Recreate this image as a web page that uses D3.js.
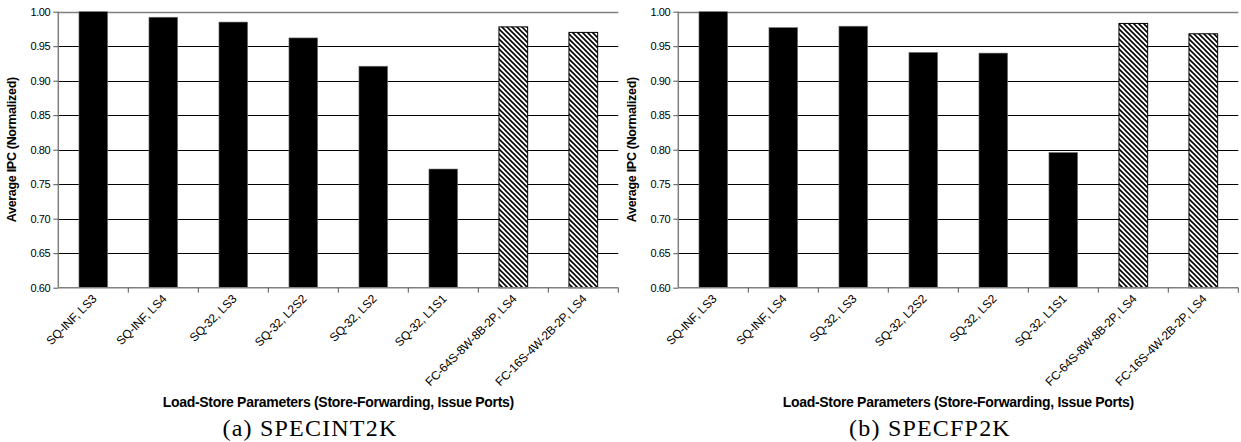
<!DOCTYPE html>
<html>
<head>
<meta charset="utf-8">
<script src="https://cdn.jsdelivr.net/npm/d3@7"></script>
<style>
    body { margin: 0; background: #fff; }
    svg text { font-family: "Liberation Sans", Arial, sans-serif; }
</style>
</head>
<body>
<div id="chart"></div>
<script>
"use strict";

// categories and values
var categories = ["SQ-INF, LS3", "SQ-INF, LS4", "SQ-32, LS3", "SQ-32, L2S2",
                  "SQ-32, LS2", "SQ-32, L1S1", "FC-64S-8W-8B-2P, LS4",
                  "FC-16S-4W-2B-2P, LS4"];
var intValues = [1.000, 0.992, 0.985, 0.962, 0.921, 0.772, 0.978, 0.970];
var fpValues = [1.000, 0.977, 0.979, 0.941, 0.940, 0.796, 0.983, 0.968];
var hatched = [false, false, false, false, false, false, true, true];
var yTicks = [0.60, 0.65, 0.70, 0.75, 0.80, 0.85, 0.90, 0.95, 1.00];
var yTitle = "Average IPC (Normalized)";
var xTitle = "Load-Store Parameters (Store-Forwarding, Issue Ports)";
var captions = ["(a) SPECINT2K", "(b) SPECFP2K"];

var W = 1241, H = 442;

var svg = d3.select("#chart").append("svg")
    .attr("width", W).attr("height", H);

// hatch for the FC bars: "\" stripes
var pat = svg.append("defs").append("pattern")
    .attr("id", "hatch")
    .attr("patternUnits", "userSpaceOnUse")
    .attr("width", 5).attr("height", 5);
pat.append("rect").attr("width", 5).attr("height", 5).attr("fill", "#fff");
pat.append("path")
    .attr("d", "M0,0 L5,5 M-1,4 L1,6 M4,-1 L6,1")
    .attr("stroke", "#000").attr("stroke-width", 1.6);


function drawPanel (left, values, caption, capx) {
    var g, x, y, plotw = 560, top = 11.7, bottom = 287.7;

    x = d3.scaleBand().domain(categories)
        .range([left, left + plotw]).paddingInner(0.59).paddingOuter(0.295);
    y = d3.scaleLinear().domain([0.6, 1.0]).range([bottom, top]);

    g = svg.append("g");

    //gridlines
    g.selectAll("line.grid").data(yTicks.slice(1)).enter().append("line")
        .attr("x1", left).attr("x2", left + plotw)
        .attr("y1", function (d) { return Math.round(y(d)) + 0.5; })
        .attr("y2", function (d) { return Math.round(y(d)) + 0.5; })
        .attr("stroke", function (d) { return d === 1.0 ? "#808080" : "#000"; })
        .attr("stroke-width", function (d) { return d === 1.0 ? 1.5 : 1; });

    //bars
    g.selectAll("rect.bar").data(values).enter().append("rect")
        .attr("x", function (d, i) { return x(categories[i]); })
        .attr("y", function (d) { return y(d); })
        .attr("width", x.bandwidth())
        .attr("height", function (d) { return y(0.6) - y(d); })
        .attr("fill", function (d, i) { return hatched[i] ? "url(#hatch)" : "#000"; })
        .attr("stroke", function (d, i) { return hatched[i] ? "#000" : "#777"; })
        .attr("stroke-width", function (d, i) { return hatched[i] ? 1 : 0.6; });

    //y axis
    var ya = g.append("g")
        .attr("transform", "translate(" + left + ",0)")
        .call(d3.axisLeft(y).tickValues(yTicks).tickSize(5).tickPadding(3)
              .tickFormat(d3.format(".2f")));
    ya.select(".domain").attr("stroke", "#808080").attr("stroke-width", 1.5)
        .attr("d", "M0," + top + "V" + bottom);
    ya.selectAll(".tick line").attr("stroke", "#555");
    ya.selectAll(".tick text").attr("font-size", "11px")
        .attr("font-family", "'Liberation Sans', Arial, sans-serif")
        .attr("letter-spacing", "-0.4px").attr("fill", "#000");

    //x axis: ticks sit at band edges
    var edges = d3.range(categories.length + 1).map(function (i) {
        return left + i * plotw / categories.length; });
    g.append("line").attr("x1", left).attr("x2", left + plotw)
        .attr("y1", bottom).attr("y2", bottom)
        .attr("stroke", "#808080").attr("stroke-width", 1.5);
    g.selectAll("line.xt").data(edges.slice(1)).enter().append("line")
        .attr("x1", function (d) { return d; }).attr("x2", function (d) { return d; })
        .attr("y1", bottom).attr("y2", bottom + 5)
        .attr("stroke", "#555");
    g.selectAll("text.xl").data(categories).enter().append("text")
        .attr("transform", function (d) {
            return "translate(" + (x(d) + x.bandwidth() / 2 + 4) + "," +
                (bottom + 12) + ") rotate(-45)"; })
        .attr("text-anchor", "end")
        .attr("font-size", "12px")
        .attr("letter-spacing", "-0.2px")
        .text(function (d) { return d; });

    //titles
    g.append("text")
        .attr("transform", "translate(" + (left - 42) + "," +
              ((top + bottom) / 2) + ") rotate(-90)")
        .attr("text-anchor", "middle")
        .attr("font-size", "12.5px").attr("font-weight", "bold")
        .attr("letter-spacing", "-0.3px")
        .text(yTitle);
    g.append("text")
        .attr("x", left + plotw / 2).attr("y", 407)
        .attr("text-anchor", "middle")
        .attr("font-size", "14px").attr("font-weight", "bold")
        .attr("letter-spacing", "-0.3px")
        .text(xTitle);
    g.append("text")
        .attr("x", capx).attr("y", 436)
        .attr("text-anchor", "middle")
        .style("font-family", "'Liberation Serif', 'Times New Roman', serif")
        .attr("font-size", "24px")
        .attr("letter-spacing", "1.2px")
        .text(caption);
}

drawPanel(58.3, intValues, captions[0], 310);
drawPanel(678.3, fpValues, captions[1], 930);
</script>
</body>
</html>
